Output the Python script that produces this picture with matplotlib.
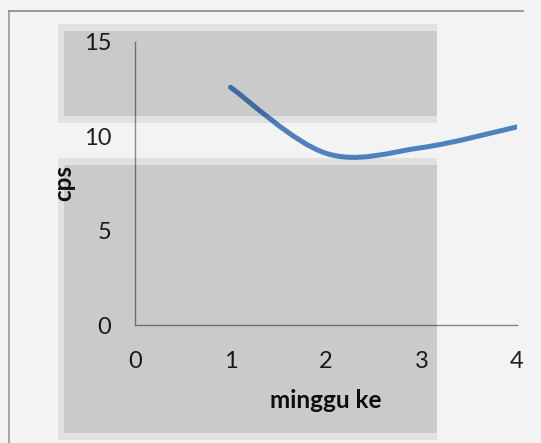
import matplotlib.pyplot as plt
from matplotlib.path import Path
from matplotlib.patches import PathPatch, Rectangle
import numpy as np

# data
minggu = [1, 2, 3, 4]
cps = [12.6, 9.1, 9.4, 10.5]
x_ticks = [0, 1, 2, 3, 4]
y_ticks = [0, 5, 10, 15]

W, H = 541, 443
plt.rcParams['font.family'] = ['Lato', 'DejaVu Sans']

fig = plt.figure(figsize=(W / 100, H / 100), dpi=100, facecolor='#f3f3f3')

# axes box in pixels: y axis at x=135, x axis at y=325, top at y=42, right end x=517
ax = fig.add_axes([135 / W, 1 - 325 / H, (517 - 135) / W, (325 - 42) / H])
ax.set_facecolor('none')
ax.set_xlim(0, 4)
ax.set_ylim(0, 15)
ax.set_xticks(x_ticks)
ax.set_yticks(y_ticks)
for s in ['top', 'right']:
    ax.spines[s].set_visible(False)
for s in ['left', 'bottom']:
    ax.spines[s].set_color('#868686')
    ax.spines[s].set_linewidth(1.0)
ax.tick_params(length=0, labelsize=17, colors='#1f1f1f')
ax.tick_params(axis='x', pad=19)
ax.tick_params(axis='y', pad=17)

# smoothed line (Excel style), bezier control points from the data points
pts = np.column_stack([minggu, cps]).astype(float)
n = len(pts)
verts = [pts[0]]
codes = [Path.MOVETO]
for i in range(n - 1):
    p_prev = pts[max(i - 1, 0)]
    p_next2 = pts[min(i + 2, n - 1)]
    c1 = pts[i] + (pts[i + 1] - p_prev) / 6
    c2 = pts[i + 1] - (p_next2 - pts[i]) / 6
    verts += [c1, c2, pts[i + 1]]
    codes += [Path.CURVE4] * 3
ax.add_patch(PathPatch(Path(verts, codes), facecolor='none', edgecolor='#4f81bd',
                       linewidth=3.6, capstyle='round', joinstyle='round'))

# axis titles
fig.text(326 / W, 1 - 400 / H, 'minggu ke', ha='center', va='center',
         fontsize=17.5, fontweight='bold', color='#111111')
fig.text(64 / W, 1 - 183 / H, 'cps', ha='center', va='center', rotation=90,
         fontsize=17.5, fontweight='bold', color='#111111')

# outer frame (left and top edge only visible)
fig.add_artist(plt.Line2D([9 / W, 9 / W], [0, 1 - 11 / H], color='#999999', linewidth=1.2))
fig.add_artist(plt.Line2D([9 / W, 523 / W], [1 - 11 / H, 1 - 11 / H], color='#8a8a8a', linewidth=1.2))

# grey shaded bands lying over the chart
def band(x0, y0, x1, y1):
    fig.add_artist(Rectangle(((x0 - 6) / W, 1 - (y1 + 7) / H),
                             (x1 - x0 + 6) / W, (y1 - y0 + 14) / H,
                             transform=fig.transFigure, facecolor='black', alpha=0.07,
                             edgecolor='none', zorder=10))
    fig.add_artist(Rectangle((x0 / W, 1 - y1 / H), (x1 - x0) / W, (y1 - y0) / H,
                             transform=fig.transFigure, facecolor='black', alpha=0.10,
                             edgecolor='none', zorder=11))

band(64, 31, 437, 116)
band(64, 165, 437, 433)

fig.savefig('out.png', dpi=100, facecolor=fig.get_facecolor())
